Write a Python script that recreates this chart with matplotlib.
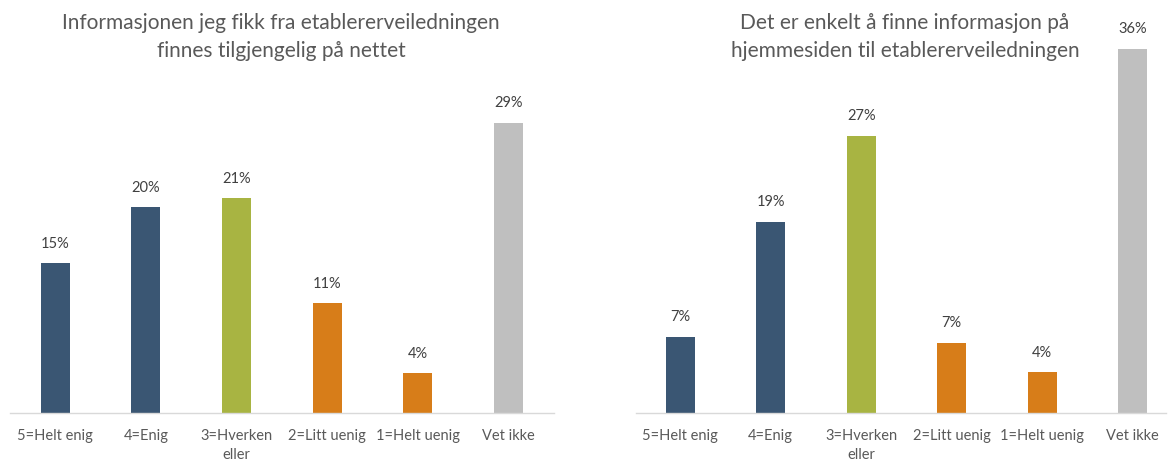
import matplotlib.pyplot as plt

plt.rcParams['font.family'] = ['Lato', 'DejaVu Sans']

categories = ['5=Helt enig', '4=Enig', '3=Hverken\neller', '2=Litt uenig', '1=Helt uenig', 'Vet ikke']
colors = ['#3a5673', '#3a5673', '#a8b442', '#d77d19', '#d77d19', '#bfbfbf']

title_left = 'Informasjonen jeg fikk fra etablererveiledningen\nfinnes tilgjengelig på nettet'
values_left = [14.8, 20.3, 21.2, 10.8, 3.9, 28.7]
labels_left = ['15%', '20%', '21%', '11%', '4%', '29%']

title_right = 'Det er enkelt å finne informasjon på\nhjemmesiden til etablererveiledningen'
values_right = [7.5, 18.9, 27.4, 6.9, 4.0, 36.0]
labels_right = ['7%', '19%', '27%', '7%', '4%', '36%']

W, H = 1169, 463
fig = plt.figure(figsize=(W / 100, H / 100), dpi=100)

def panel(rect, xlim, values, labels):
    ax = fig.add_axes(rect)
    x = list(range(len(categories)))
    ax.bar(x, values, width=0.32, color=colors)
    for xi, v, lab in zip(x, values, labels):
        ax.annotate(lab, (xi, v), xytext=(0, 9), textcoords='offset points',
                    ha='center', va='bottom', fontsize=10.5, color='#404040')
    ax.set_xlim(*xlim)
    ax.set_ylim(0, 37)
    ax.set_xticks(x)
    ax.set_xticklabels(categories, fontsize=10.5, color='#595959', linespacing=1.45)
    ax.tick_params(axis='x', length=0, pad=12)
    ax.set_yticks([])
    for s in ['top', 'left', 'right']:
        ax.spines[s].set_visible(False)
    ax.spines['bottom'].set_color('#d9d9d9')
    ax.spines['bottom'].set_linewidth(1.0)
    return ax

bottom = 50.5 / H
height = 37 * 10.1 / H
panel([10 / W, bottom, 543.6 / W, height], (-0.5, 5.5), values_left, labels_left)
panel([636 / W, bottom, 530 / W, height], (-0.49, 5.37), values_right, labels_right)

fig.text(281 / W, 1 - 37 / H, title_left, ha='center', va='center', fontsize=15,
         color='#595959', linespacing=1.55)
fig.text(905 / W, 1 - 37 / H, title_right, ha='center', va='center', fontsize=15,
         color='#595959', linespacing=1.55)

fig.savefig('out.png', dpi=100)
